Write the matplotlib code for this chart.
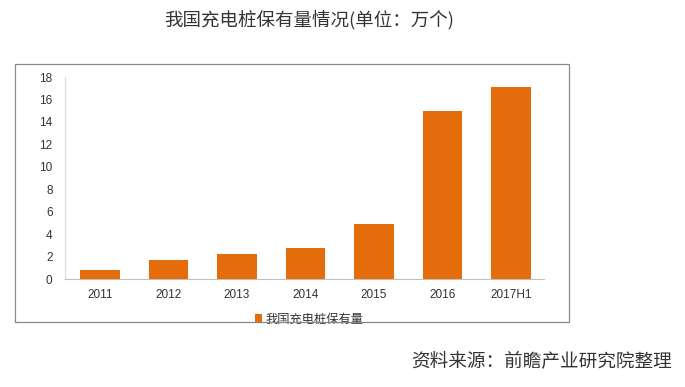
import matplotlib.pyplot as plt
from matplotlib.patches import Rectangle

plt.rcParams['font.family'] = ['Noto Sans CJK SC', 'DejaVu Sans']

# 充电桩保有量 (万个)
years = ["2011", "2012", "2013", "2014", "2015", "2016", "2017H1"]
values = [0.8, 1.7, 2.2, 2.8, 4.9, 15.0, 17.1]
yticks = [0, 2, 4, 6, 8, 10, 12, 14, 16, 18]

bar_color = "#E46C0A"

fig = plt.figure(figsize=(6.85, 3.87), dpi=100)

# outer gray frame around the chart
fig.patches.append(Rectangle((0.022, 0.168), 0.809, 0.667, transform=fig.transFigure,
                             fill=False, edgecolor="#888888", lw=0.9))

ax = fig.add_axes([0.095, 0.279, 0.699, 0.522])
x = list(range(len(years)))
ax.bar(x, values, width=0.57, color=bar_color, label="我国充电桩保有量")

ax.set_xlim(-0.51, 6.48)
ax.set_ylim(0, 18)
ax.set_yticks(yticks)
ax.set_xticks(x)
ax.set_xticklabels(years, fontsize=8.5, family="Liberation Sans", color="#333333")
ax.set_yticklabels([str(v) for v in yticks], fontsize=8.5, family="Liberation Sans", color="#333333")
ax.tick_params(axis="x", length=0, pad=7)
ax.tick_params(axis="y", length=0, pad=9)

for s in ["top", "right"]:
    ax.spines[s].set_visible(False)
ax.spines["left"].set_color("#d9d9d9")
ax.spines["bottom"].set_color("#bfbfbf")

ax.legend(loc="upper center", bbox_to_anchor=(0.51, -0.11), frameon=False,
          fontsize=8.8, handlelength=0.6, handleheight=0.6, handletextpad=0.3,
          labelcolor="#333333")

fig.text(0.452, 0.948, "我国充电桩保有量情况(单位：万个)", ha="center", va="center",
         fontsize=13.3, color="#333333")
fig.text(0.981, 0.068, "资料来源：前瞻产业研究院整理", ha="right", va="center",
         fontsize=13.4, color="#333333")

fig.savefig("out.png", dpi=100)
